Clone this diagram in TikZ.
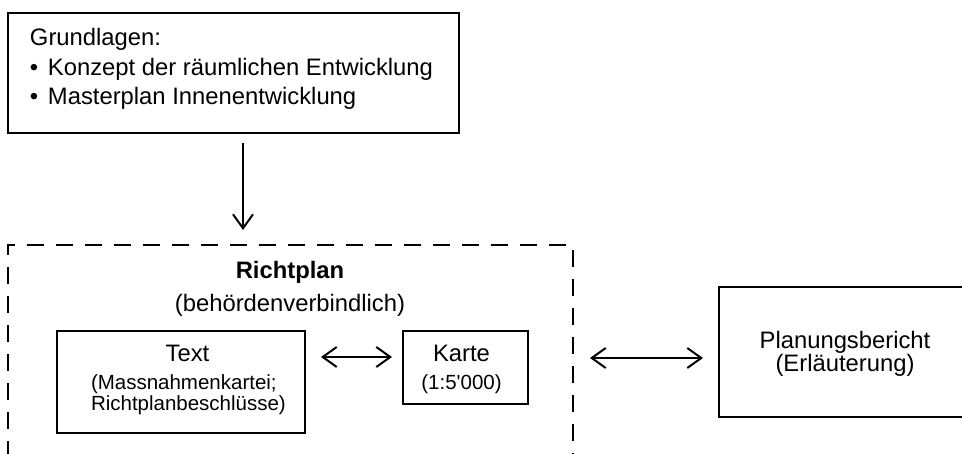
\documentclass[tikz,border=0pt]{standalone}
\usepackage{fontspec}
\newfontfamily\arial{Liberation Sans}
\usetikzlibrary{arrows.meta}

\begin{document}
\begin{tikzpicture}[x=1pt,y=-1pt]
\tikzstyle{every node}+=[inner sep=0pt, outer sep=0pt]
\tikzstyle{kasten}=[draw=black, line width=2.4pt]
\tikzstyle{gestrichelt}=[draw=black, line width=2.4pt, dash pattern=on 17pt off 12pt]
\tikzstyle{gross}=[font=\arial\fontsize{23.8}{28}\selectfont]
\tikzstyle{klein}=[font=\arial\fontsize{20.5}{24}\selectfont]
\tikzstyle{pfeil}=[draw=black, line width=2pt, >={Straight Barb[length=14pt,width=20pt]}]
\useasboundingbox (0,0) rectangle (962,454);
\clip (0,0) rectangle (962,454);
% Grundlagen
\node [kasten, minimum width=451, minimum height=120] (grund) at (233.5,73) {};
\node [gross, anchor=base west] (grundtitel) at (30,46) {Grundlagen:};
\node [gross, anchor=base west] (grundeins) at (30,76) {\makebox[18pt][l]{•}Konzept der räumlichen Entwicklung};
\node [gross, anchor=base west] (grundzwei) at (30,105) {\makebox[18pt][l]{•}Masterplan Innenentwicklung};
% Richtplan
\node [gestrichelt, minimum width=565, minimum height=240] (richtplan) at (290.5,365) {};
\node [gross, anchor=base] (richttitel) at (290,279) {\bfseries Richtplan};
\node [gross, anchor=base] (richtzusatz) at (290,312) {(behördenverbindlich)};
\node [kasten, minimum width=248, minimum height=102] (textbox) at (181,382) {};
\node [gross, anchor=base] (texttitel) at (187.5,362) {Text};
\node [klein, anchor=base west] (texteins) at (91,390) {(Massnahmenkartei;};
\node [klein, anchor=base west] (textzwei) at (91,411) {Richtplanbeschlüsse)};
\node [kasten, minimum width=125, minimum height=73] (karte) at (465.5,367.5) {};
\node [gross, anchor=base] (kartetitel) at (461.5,362) {Karte};
\node [klein, anchor=base] (kartemass) at (461.5,390) {(1:5'000)};
% Planungsbericht
\node [kasten, minimum width=249, minimum height=130] (bericht) at (843.5,352) {};
\node [gross, anchor=base] (berichttitel) at (845,349) {Planungsbericht};
\node [gross, anchor=base] (berichtzusatz) at (845,372) {(Erläuterung)};
% Pfeile
\draw [pfeil, ->] ([xshift=9.5pt,yshift=-10pt]grund.south) -- ([xshift=-47.5pt,yshift=15pt]richtplan.north);
\draw [pfeil, <->] ([xshift=16pt,yshift=25pt]textbox.east) -- ([xshift=-11pt,yshift=10.5pt]karte.west);
\draw [pfeil, <->] ([xshift=17pt,yshift=7pt]richtplan.east) -- ([xshift=-16pt,yshift=-6pt]bericht.west);
\end{tikzpicture}
\end{document}
